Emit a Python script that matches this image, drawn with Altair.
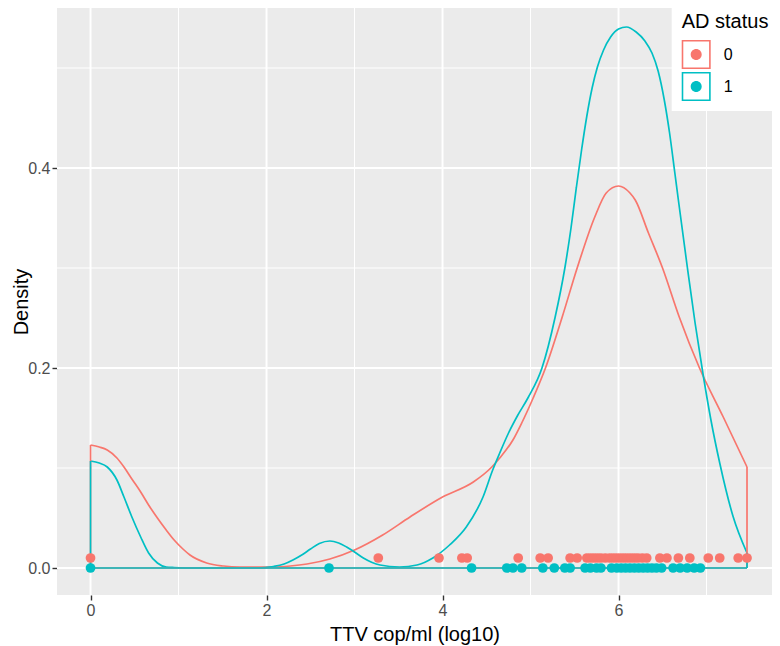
import altair as alt
import pandas as pd

# ---- data ----
groups = ["0", "1"]
colors = ["#F8766D", "#00BFC4"]

red_x = [0, 0.1, 0.19, 0.3, 0.38, 0.47, 0.57, 0.66, 0.76, 0.86, 0.95, 1.05, 1.13, 1.32,
         1.51, 1.7, 1.89, 2.08, 2.27, 2.46, 2.72, 3.0, 3.32, 3.63, 4.0, 4.35, 4.56, 4.65,
         4.8, 4.9, 5.03, 5.17, 5.36, 5.53, 5.73, 5.86, 6.0, 6.13, 6.19, 6.34, 6.5, 6.69,
         6.92, 7.19, 7.46]
red_d = [0.123, 0.121, 0.118, 0.110, 0.101, 0.089, 0.076, 0.063, 0.050, 0.038, 0.028, 0.019,
         0.013, 0.005, 0.002, 0.001, 0.001, 0.001, 0.002, 0.004, 0.009, 0.018, 0.033, 0.051,
         0.071, 0.086, 0.101, 0.110, 0.128, 0.145, 0.170, 0.200, 0.251, 0.300, 0.351, 0.375,
         0.382, 0.375, 0.368, 0.335, 0.300, 0.251, 0.200, 0.151, 0.101]

teal_x = [0, 0.1, 0.19, 0.3, 0.38, 0.47, 0.57, 0.66, 0.76, 0.86, 0.95, 1.2, 1.5, 1.89, 2.08,
          2.2, 2.3, 2.4, 2.5, 2.6, 2.72, 2.82, 2.91, 3.0, 3.10, 3.29, 3.51, 3.71, 3.89,
          4.08, 4.27, 4.46, 4.57, 4.65, 4.75, 4.85, 4.97, 5.13, 5.28, 5.39, 5.46, 5.52, 5.58,
          5.64, 5.70, 5.76, 5.83, 5.91, 6.0, 6.09, 6.2, 6.3, 6.38, 6.45, 6.52, 6.58, 6.64,
          6.68, 6.78, 6.87, 6.96, 7.05, 7.15, 7.3, 7.46]
teal_d = [0.107, 0.105, 0.101, 0.088, 0.071, 0.051, 0.031, 0.015, 0.005, 0.001, 0.0005, 0.0,
          0.0, 0.0, 0.0015, 0.004, 0.008, 0.013, 0.019, 0.0245, 0.027, 0.025, 0.021, 0.016,
          0.010, 0.003, 0.001, 0.003, 0.010, 0.023, 0.041, 0.071, 0.098, 0.115, 0.135, 0.152,
          0.170, 0.200, 0.251, 0.300, 0.340, 0.380, 0.418, 0.452, 0.480, 0.501, 0.518, 0.531,
          0.539, 0.541, 0.536, 0.527, 0.515, 0.497, 0.468, 0.435, 0.395, 0.368, 0.302, 0.245,
          0.194, 0.148, 0.105, 0.052, 0.015]

pts0_x = [0, 3.27, 3.96, 4.22, 4.28, 4.86, 5.11, 5.20, 5.45, 5.53, 5.64, 5.68, 5.72, 5.76,
          5.80, 5.85, 5.90, 5.94, 5.98, 6.02, 6.06, 6.10, 6.14, 6.18, 6.22, 6.27, 6.32, 6.47,
          6.55, 6.68, 6.81, 7.02, 7.15, 7.36, 7.46]
pts1_x = [0, 2.71, 4.33, 4.73, 4.80, 4.90, 5.14, 5.27, 5.39, 5.45, 5.62, 5.68, 5.75, 5.80,
          5.92, 5.98, 6.03, 6.08, 6.13, 6.18, 6.23, 6.28, 6.33, 6.38, 6.43, 6.49, 6.62, 6.70,
          6.78, 6.86, 6.93]
pts_y = [0.01, 0.0]

x_major = [0, 2, 4, 6]
x_minor = [1, 3, 5, 7]
y_major = [0.0, 0.2, 0.4]
y_minor = [0.1, 0.3, 0.5]

# ---- tables ----
series = [(groups[0], red_x, red_d), (groups[1], teal_x, teal_d)]
curve = pd.DataFrame([{"ad": g, "x": x, "density": d}
                      for g, xs, ds in series for x, d in zip(xs, ds)])

edge_rows = []
for g, xs, ds in series:
    edge_rows.append({"ad": g, "x": xs[0], "x2": xs[-1], "y": 0.0, "y2": 0.0})
    edge_rows.append({"ad": g, "x": xs[0], "x2": xs[0], "y": 0.0, "y2": ds[0]})
    edge_rows.append({"ad": g, "x": xs[-1], "x2": xs[-1], "y": 0.0, "y2": ds[-1]})
edges = pd.DataFrame(edge_rows)

points = pd.DataFrame([{"ad": g, "x": x, "density": yv}
                       for g, xs, yv in [(groups[0], pts0_x, pts_y[0]), (groups[1], pts1_x, pts_y[1])]
                       for x in xs])

x_scale = alt.Scale(domain=[-0.381, 7.744], nice=False, zero=False)
y_scale = alt.Scale(domain=[-0.027, 0.56], nice=False, zero=False)
color_scale = alt.Scale(domain=groups, range=colors)

x_axis = alt.Axis(values=x_major, title="TTV cop/ml (log10)", format="d")
y_axis = alt.Axis(values=y_major, title="Density", format=".1f")

key_path = ("M-1,-1H1V1H-1Z M-0.89,-0.89V0.89H0.89V-0.89Z "
            "M0.38,0A0.38,0.38,0,1,1,-0.38,0A0.38,0.38,0,1,1,0.38,0Z")
legend = alt.Legend(title="AD status", orient="none", legendX=614.7, legendY=-6,
                    padding=10, fillColor="white", symbolType=key_path,
                    symbolSize=841, symbolStrokeWidth=0, symbolOpacity=1,
                    titleFontSize=20, titleFontWeight="normal", titleColor="black",
                    titlePadding=8, labelFontSize=16, labelColor="black",
                    labelOffset=13, rowPadding=3)

grid_major_x = alt.Chart(pd.DataFrame({"v": x_major})).mark_rule(color="white", strokeWidth=2).encode(
    x=alt.X("v:Q", scale=x_scale, axis=x_axis))
grid_minor_x = alt.Chart(pd.DataFrame({"v": x_minor})).mark_rule(color="white", strokeWidth=1).encode(
    x=alt.X("v:Q", scale=x_scale, axis=x_axis))
grid_major_y = alt.Chart(pd.DataFrame({"v": y_major})).mark_rule(color="white", strokeWidth=2).encode(
    y=alt.Y("v:Q", scale=y_scale, axis=y_axis))
grid_minor_y = alt.Chart(pd.DataFrame({"v": y_minor})).mark_rule(color="white", strokeWidth=1).encode(
    y=alt.Y("v:Q", scale=y_scale, axis=y_axis))

lines = alt.Chart(curve).mark_line(strokeWidth=1.7, interpolate="monotone").encode(
    x=alt.X("x:Q", scale=x_scale, axis=x_axis),
    y=alt.Y("density:Q", scale=y_scale, axis=y_axis),
    color=alt.Color("ad:N", scale=color_scale, legend=legend),
)

edge_lines = alt.Chart(edges).mark_rule(strokeWidth=1.7).encode(
    x=alt.X("x:Q", scale=x_scale, axis=x_axis),
    x2="x2:Q",
    y=alt.Y("y:Q", scale=y_scale, axis=y_axis),
    y2="y2:Q",
    color=alt.Color("ad:N", scale=color_scale, legend=legend),
)

dots = alt.Chart(points).mark_circle(size=95, opacity=1).encode(
    x=alt.X("x:Q", scale=x_scale, axis=x_axis),
    y=alt.Y("density:Q", scale=y_scale, axis=y_axis),
    color=alt.Color("ad:N", scale=color_scale, legend=legend),
)

chart = alt.layer(grid_minor_x, grid_minor_y, grid_major_x, grid_major_y,
                  lines, edge_lines, dots).properties(
    width=715, height=587,
    autosize=alt.AutoSizeParams(type="none"),
    padding={"left": 49, "top": 0, "right": 0, "bottom": 50},
    background="white",
).configure(font="Liberation Sans").configure_view(
    fill="#EBEBEB", strokeWidth=0
).configure_axis(
    grid=False, domain=False, tickColor="#333333", tickSize=5, tickWidth=1.4,
    labelFontSize=16, labelColor="#4D4D4D", labelPadding=2,
    titleFontSize=20, titleFontWeight="normal", titleColor="black",
).configure_axisX(titlePadding=6).configure_axisY(titleX=-30, titleBaseline="alphabetic")

chart.save("out.html", embed_options={"renderer": "svg", "actions": False})
